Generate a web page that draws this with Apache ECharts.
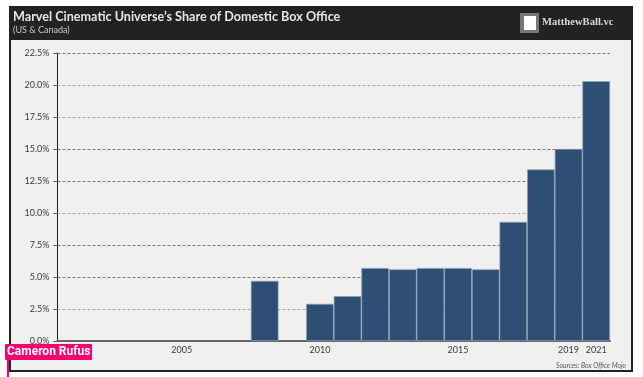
<!DOCTYPE html>
<html>
<head>
<meta charset="utf-8">
<script src="https://cdn.jsdelivr.net/npm/echarts@6/dist/echarts.min.js"></script>
<style>
html, body { margin: 0; padding: 0; background: #fff; }
#chart { width: 643px; height: 377px; }
</style>
</head>
<body>
<div id="chart"></div>
<script>
var years = ['2001','2002','2003','2004','2005','2006','2007','2008','2009','2010','2011','2012','2013','2014','2015','2016','2017','2018','2019','2021'];
var share = [null,null,null,null,null,null,null,4.7,null,2.9,3.5,5.7,5.6,5.7,5.7,5.6,9.3,13.4,15.0,20.3];
var shownYears = ['2005','2010','2015','2019','2021'];
var gridTicks = [2.5, 5, 7.5, 10, 12.5, 15, 17.5, 20, 22.5];
var darkTicks = [22.5, 15, 12.5, 7.5, 5];

var chart = echarts.init(document.getElementById('chart'), null, { renderer: 'canvas' });
var font = 'Lato';

var option = {
  animation: false,
  backgroundColor: '#fff',
  textStyle: { fontFamily: font },
  grid: { left: 57.5, right: 33, top: 53, bottom: 36 },
  xAxis: {
    type: 'category',
    data: years,
    axisLine: { lineStyle: { color: '#666', width: 2 } },
    axisTick: { show: false },
    axisLabel: {
      color: '#3a3a3a', fontSize: 9, margin: 5,
      interval: function (i, v) { return shownYears.indexOf(v) > -1 }
    }
  },
  yAxis: {
    type: 'value',
    min: 0,
    max: 22.5,
    interval: 2.5,
    axisLine: { show: true, lineStyle: { color: '#222', width: 1 } },
    axisTick: { show: true, length: 4, lineStyle: { color: '#555' } },
    axisLabel: {
      color: '#3a3a3a', fontSize: 9, margin: 8,
      formatter: function (v) { return v.toFixed(1) + '%' }
    },
    splitLine: { show: false }
  },
  series: [{
    type: 'bar',
    data: share,
    barCategoryGap: 0,
    z: 3,
    itemStyle: { color: '#2f4e73', borderColor: '#8ba0b8', borderWidth: 0.7 },
    markLine: {
      silent: true,
      symbol: 'none',
      label: { show: false },
      z: 1,
      data: gridTicks.map(function (v) {
        var dark = darkTicks.indexOf(v) > -1;
        return {
          yAxis: v,
          lineStyle: { color: dark ? '#777' : '#aaa', type: [3, 2], width: 1 }
        };
      })
    }
  }],
  graphic: [
    { type: 'rect', z: -10, shape: { x: 10, y: 7, width: 622, height: 364 }, style: { fill: '#f0f0ee', stroke: '#222', lineWidth: 2 } },
    { type: 'rect', z: -9, shape: { x: 9, y: 6, width: 624, height: 34 }, style: { fill: '#222' } },
    { type: 'text', z: 10, left: 13, top: 10, style: { text: 'Marvel Cinematic Universe\u2019s Share of Domestic Box Office', fill: '#e6e6e6', font: 'bold 12.6px ' + font } },
    { type: 'text', z: 10, left: 13, top: 26, style: { text: '(US & Canada)', fill: '#c8c8c8', font: '9px ' + font } },
    { type: 'rect', z: 10, shape: { x: 520, y: 13, width: 19, height: 20 }, style: { fill: '#777' } },
    { type: 'rect', z: 11, shape: { x: 524, y: 16, width: 12, height: 14 }, style: { fill: '#fff' } },
    { type: 'text', z: 10, left: 542, top: 17, style: { text: 'MatthewBall.vc', fill: '#d8d8d8', font: 'bold 10.6px "Liberation Serif"' } },
    { type: 'text', z: 10, left: 556, top: 362, style: { text: 'Sources: Box Office Mojo', fill: '#555', font: 'italic 6.8px ' + font } },
    { type: 'rect', z: 20, shape: { x: 5, y: 344, width: 87, height: 16, r: 1 }, style: { fill: '#f5006e' } },
    { type: 'rect', z: 20, shape: { x: 7, y: 360, width: 2, height: 17 }, style: { fill: '#f5006e' } },
    { type: 'text', z: 21, left: 7, top: 346, style: { text: 'Cameron Rufus', fill: '#fff', font: 'bold 12px Roboto' } }
  ]
};

chart.setOption(option);
window.onresize = chart.resize;
</script>
</body>
</html>
